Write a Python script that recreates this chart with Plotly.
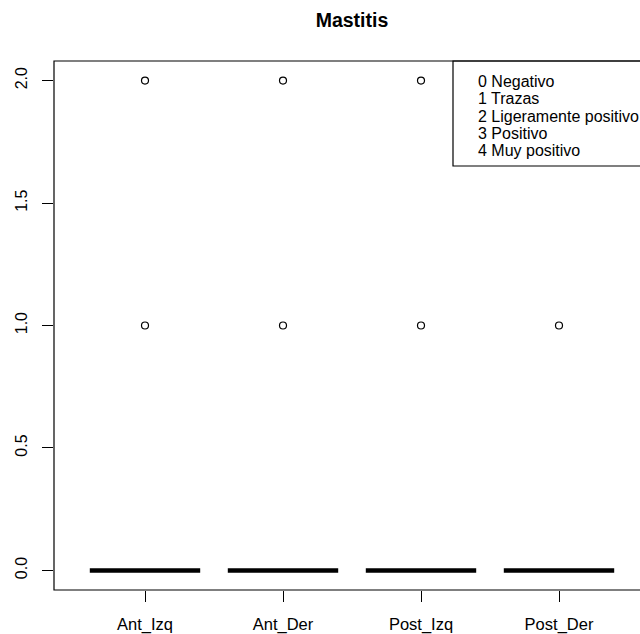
import plotly.graph_objects as go

# Data
groups = ["Ant_Izq", "Ant_Der", "Post_Izq", "Post_Der"]
q1 = [0, 0, 0, 0]
median = [0, 0, 0, 0]
q3 = [0, 0, 0, 0]
lowerfence = [0, 0, 0, 0]
upperfence = [0, 0, 0, 0]
outlier_group = ["Ant_Izq", "Ant_Der", "Post_Izq", "Ant_Izq", "Ant_Der", "Post_Izq", "Post_Der"]
outlier_value = [2, 2, 2, 1, 1, 1, 1]
legend_labels = ["0 Negativo", "1 Trazas", "2 Ligeramente positivo", "3 Positivo", "4 Muy positivo"]
y_ticks = [0.0, 0.5, 1.0, 1.5, 2.0]

FONT = "Liberation Sans, Arial, sans-serif"

fig = go.Figure()
fig.add_trace(go.Box(
    x=groups, q1=q1, median=median, q3=q3,
    lowerfence=lowerfence, upperfence=upperfence,
    width=0.8, boxpoints=False,
    line=dict(color="black", width=4.5), fillcolor="white",
    showlegend=False, hoverinfo="skip",
))
fig.add_trace(go.Scatter(
    x=outlier_group, y=outlier_value, mode="markers",
    marker=dict(symbol="circle-open", size=7, color="black", line=dict(width=1.2, color="black")),
    showlegend=False, hoverinfo="skip",
))

W, H = 640, 634
L, T, B = 54, 61, 44
px_per_unit = 138.0
x_left = -1 + (1 - (145 - L) / px_per_unit)
x_right = x_left + (W - L) / px_per_unit

fig.update_layout(
    width=W, height=H,
    margin=dict(l=L, r=0, t=T, b=B),
    paper_bgcolor="white", plot_bgcolor="white",
    font=dict(family=FONT, size=16, color="black"),
    title=dict(text="<b>Mastitis</b>", x=(L + 650) / 2 / W, xanchor="center",
               y=1 - 20 / H, yanchor="middle", font=dict(size=19.5, family=FONT, color="black")),
    xaxis=dict(
        type="category", categoryorder="array", categoryarray=groups,
        range=[x_left, x_right], showgrid=False, zeroline=False, showline=False,
        ticks="outside", ticklen=11, tickcolor="black", tickwidth=1,
        tickfont=dict(size=16.5, family=FONT, color="black"), ticklabelstandoff=8,
    ),
    yaxis=dict(
        range=[-0.08, 2.08], tickvals=y_ticks, ticktext=["0.0", "0.5", "1.0", "1.5", "2.0"],
        showgrid=False, zeroline=False, showline=False,
        ticks="outside", ticklen=11, tickcolor="black", tickwidth=1,
        tickangle=-90, tickfont=dict(size=16, family=FONT, color="black"),
        ticklabelstandoff=9,
    ),
)

# plot frame (extends past right edge like reference)
fig.add_shape(type="rect", xref="paper", yref="paper", x0=0, x1=(650 - L) / (W - L), y0=0, y1=1,
              line=dict(color="black", width=1.2), layer="above")

# legend box
lx0 = (453 - L) / (W - L)
fig.add_shape(type="rect", xref="paper", yref="paper", x0=lx0, x1=1.2,
              y0=1 - (166 - T) / (H - T - B), y1=1,
              line=dict(color="black", width=1.2), layer="above")
line_ys = [81, 98.5, 116, 133.5, 151]
for lab, yy in zip(legend_labels, line_ys):
    fig.add_annotation(text=lab, xref="paper", yref="paper",
                       x=(476 - L) / (W - L), xanchor="left",
                       y=1 - (yy - T) / (H - T - B), yanchor="middle",
                       showarrow=False, font=dict(size=16, family=FONT, color="black"))

fig.write_html("out.html",
               config={"displayModeBar": False},
               post_script="document.body.style.margin='0';document.body.style.padding='0';"
                           "document.body.style.overflow='hidden';")
